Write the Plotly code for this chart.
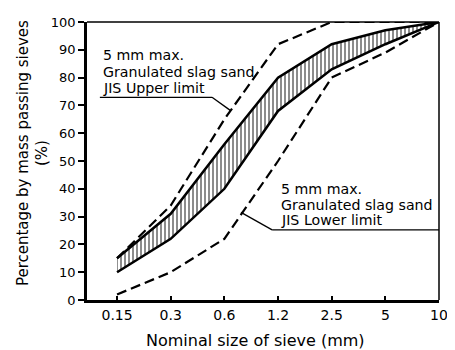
import plotly.graph_objects as go

sieve_labels = ["0.15", "0.3", "0.6", "1.2", "2.5", "5", "10"]
sieve_pos = list(range(len(sieve_labels)))

upper_limit = [15, 34, 65, 92, 100, 100, 100]
lower_limit = [2, 10, 22, 50, 80, 89, 100]
band_top = [15, 31, 56, 80, 92, 97, 100]
band_bottom = [10, 22, 40, 68, 83, 92, 100]

y_ticks = [0, 10, 20, 30, 40, 50, 60, 70, 80, 90, 100]

FONT = "DejaVu Sans"

fig = go.Figure()

fig.add_trace(go.Scatter(x=sieve_pos, y=band_bottom, mode="lines",
                         line=dict(color="black", width=2.5), showlegend=False))
fig.add_trace(go.Scatter(x=sieve_pos, y=band_top, mode="lines",
                         line=dict(color="black", width=2.5), fill="tonexty",
                         fillcolor="white",
                         fillpattern=dict(shape="|", fgcolor="black", bgcolor="white",
                                          size=4, solidity=0.45),
                         showlegend=False))
fig.add_trace(go.Scatter(x=sieve_pos, y=upper_limit, mode="lines",
                         line=dict(color="black", width=2.2, dash="10px,5px"), showlegend=False))
fig.add_trace(go.Scatter(x=sieve_pos, y=lower_limit, mode="lines",
                         line=dict(color="black", width=2.2, dash="10px,5px"), showlegend=False))

# leader lines
fig.add_shape(type="line", x0=-0.32, y0=72.9, x1=1.77, y1=72.9, line=dict(color="black", width=1.3))
fig.add_shape(type="line", x0=1.77, y0=72.9, x1=2.11, y1=68.2, line=dict(color="black", width=1.3))
fig.add_shape(type="line", x0=2.31, y0=31.5, x1=2.89, y1=25.2, line=dict(color="black", width=1.3))
fig.add_shape(type="line", x0=2.89, y0=25.2, x1=6.0, y1=25.2, line=dict(color="black", width=1.3))

# top and right frame
fig.add_shape(type="line", xref="paper", yref="paper", x0=0, y0=1, x1=1, y1=1,
              line=dict(color="black", width=1.5))
fig.add_shape(type="line", xref="paper", yref="paper", x0=1, y0=0, x1=1, y1=1,
              line=dict(color="black", width=1.5))

upper_text = ["5 mm max.", "Granulated slag sand", "JIS Upper limit"]
upper_y = [88.0, 82.0, 76.2]
for t, yy in zip(upper_text, upper_y):
    fig.add_annotation(x=-0.29, y=yy, text=t, showarrow=False, xanchor="left", yanchor="middle",
                       font=dict(family=FONT, size=14.2, color="black"))

lower_text = ["5 mm max.", "Granulated slag sand", "JIS Lower limit"]
lower_y = [39.8, 34.3, 28.75]
for t, yy in zip(lower_text, lower_y):
    fig.add_annotation(x=3.02, y=yy, text=t, showarrow=False, xanchor="left", yanchor="middle",
                       font=dict(family=FONT, size=14.2, color="black"))

fig.add_annotation(xref="paper", yref="paper", x=-0.155, y=0.53, xanchor="center", yanchor="middle",
                   text="Percentage by mass passing sieves<br>(%)", textangle=-90,
                   showarrow=False, font=dict(family=FONT, size=15, color="black"))
fig.add_annotation(xref="paper", yref="paper", x=0.479, y=-0.146, xanchor="center", yanchor="middle",
                   text="Nominal size of sieve (mm)", showarrow=False,
                   font=dict(family=FONT, size=16, color="black"))

fig.update_xaxes(range=[-0.56, 6.0], tickmode="array", tickvals=sieve_pos, ticktext=sieve_labels,
                 ticks="inside", ticklen=4, tickwidth=1.5, tickcolor="black",
                 ticklabeloverflow="allow",
                 showline=True, linecolor="black", linewidth=2.5, showgrid=False, zeroline=False,
                 tickfont=dict(family=FONT, size=14, color="black"))
fig.update_yaxes(range=[0, 100], tickmode="array", tickvals=y_ticks,
                 ticks="outside", ticklen=6, tickwidth=1.5, tickcolor="black",
                 showline=True, linecolor="black", linewidth=2.5, showgrid=False, zeroline=False,
                 tickfont=dict(family=FONT, size=13, color="black"))

# page body has an 8px margin, so the figure is sized to fit the 455x350 window
fig.update_layout(width=447, height=342, margin=dict(l=79, r=7, t=12, b=50),
                  plot_bgcolor="white", paper_bgcolor="white", showlegend=False)

fig.write_html("out.html")
